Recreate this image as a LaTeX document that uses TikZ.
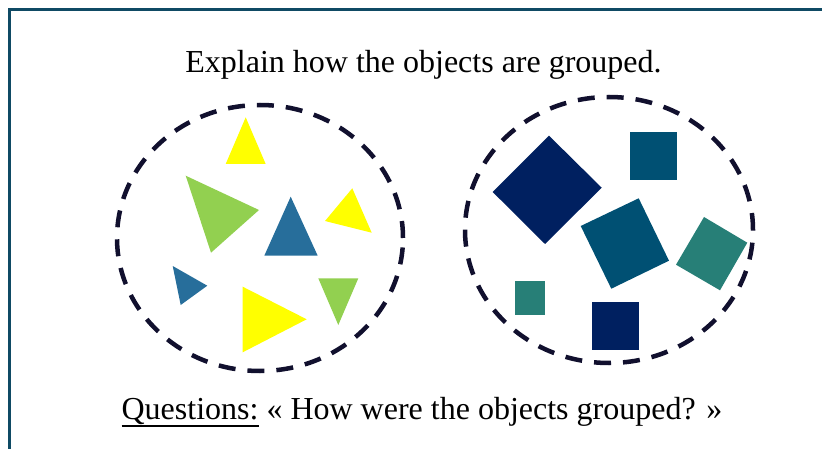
\documentclass[tikz,border=0pt]{standalone}
\usepackage{fontspec}
\setmainfont{Liberation Serif}

\definecolor{frameblue}{HTML}{0F4A64}
\definecolor{ringink}{HTML}{11102E}
\definecolor{lemon}{HTML}{FFFF00}
\definecolor{leaf}{HTML}{92D050}
\definecolor{steel}{HTML}{276E9B}
\definecolor{navy}{HTML}{002060}
\definecolor{petrol}{HTML}{005073}
\definecolor{teal}{HTML}{277F77}

% Heavier underline than \underline gives at this size.
\newcommand{\thickuline}[1]{\setbox0\hbox{#1}\rlap{\rule[-8pt]{\wd0}{2pt}}\box0\relax}

\begin{document}
\begin{tikzpicture}[x=1pt,y=-1pt,font=\fontsize{32}{38}\selectfont]
  \useasboundingbox (0,0) rectangle (822,449);
  \clip (0,0) rectangle (822,449);
  \tikzset{group ring/.style={ringink,line width=4.5pt,dash pattern=on 17pt off 12pt},
    caption/.style={anchor=base,inner sep=0pt}}

  % Card outline runs past the right and bottom edges.
  \draw[frameblue,line width=2.6pt] (9.5,9.5) rectangle (840,470);

  \node[caption] (prompt) at (423.5,73) {Explain how the objects are grouped.};

  % Group of triangles.
  \draw[group ring] (260,238) ellipse [x radius=143pt, y radius=133pt];
  \fill[lemon] (245.7,117.3) -- (225.7,164) -- (265.7,164) -- cycle;
  \fill[leaf] (185.7,175.7) -- (259,210) -- (211,252.7) -- cycle;
  \fill[steel] (290.7,196.7) -- (264.3,255.7) -- (317.7,255.7) -- cycle;
  \fill[lemon] (352.3,188.3) -- (325,221) -- (371.7,232.7) -- cycle;
  \fill[steel] (172.7,266) -- (207.3,285.7) -- (180.7,305) -- cycle;
  \fill[lemon] (242.7,286.7) -- (306.7,319.3) -- (242.7,352.3) -- cycle;
  \fill[leaf] (318.3,278.3) -- (358.3,278.3) -- (338.3,325) -- cycle;

  % Group of squares.
  \draw[group ring] (609,230) ellipse [x radius=144pt, y radius=133pt];
  \fill[navy] (549,135.7) -- (601.7,187.7) -- (545,244) -- (492.7,192) -- cycle;
  \fill[petrol] (630,132) rectangle (677,179.7);
  \fill[petrol] (580.7,226) -- (638.7,198.3) -- (669,260.7) -- (611.3,288.7) -- cycle;
  \fill[teal] (704,217) -- (747.3,242.7) -- (720,290.3) -- (676,264.7) -- cycle;
  \fill[teal] (515,281) rectangle (545,315);
  \fill[navy] (592,302) rectangle (639,349.7);

  \node[caption] (question) at (422,419)
    {\thickuline{Questions:} « How were the objects grouped? »};
\end{tikzpicture}
\end{document}
